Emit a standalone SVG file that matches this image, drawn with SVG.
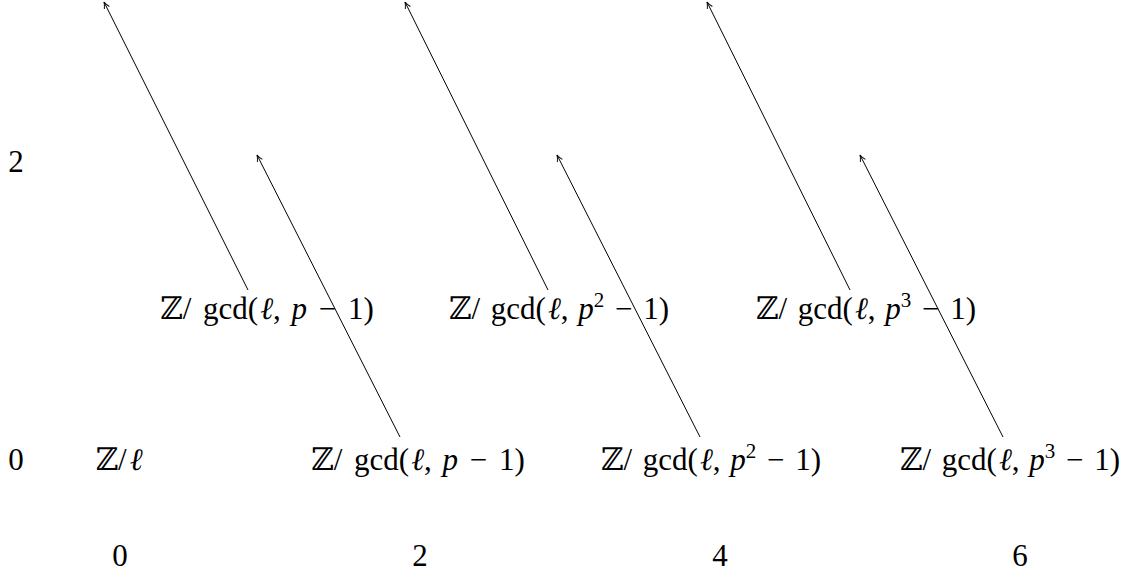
<svg xmlns="http://www.w3.org/2000/svg" width="1128" height="588" viewBox="0 0 1128 588">
<style type="text/css">
.i{font-style:italic}
.c{stroke:#000;stroke-width:1;fill:none}
</style>
<defs>
<marker id="a" viewBox="0 0 10 10" refX="9" refY="5" markerWidth="8" markerHeight="8" orient="auto" markerUnits="userSpaceOnUse">
<path d="M1,1.5 Q5,4 9,5 Q5,6 1,8.5" fill="none" stroke="#000" stroke-width="1.2"/>
</marker>
</defs>
<rect width="1128" height="588" fill="#fff"/>
<g font-family="'Liberation Serif', 'DejaVu Serif', serif" font-size="31" fill="#000" text-anchor="middle">
<g id="axes">
<text x="16" y="172">2</text>
<text x="16" y="470">0</text>
<text x="120" y="566">0</text>
<text x="420" y="566">2</text>
<text x="720" y="566">4</text>
<text x="1020" y="566">6</text>
</g>
<g id="n00"><text x="119" y="470">ℤ/<tspan dx="3" class="i">ℓ</tspan></text></g>
<g id="n20"><text x="418" y="470">ℤ/<tspan dx="4"> gcd(</tspan><tspan class="i" dx="2">ℓ</tspan>,<tspan dx="3"> </tspan><tspan class="i">p</tspan><tspan dx="4"> −</tspan><tspan dx="4"> 1)</tspan></text></g>
<g id="n40"><text x="711" y="470">ℤ/<tspan dx="3"> gcd(</tspan><tspan class="i" dx="2">ℓ</tspan>,<tspan dx="2"> </tspan><tspan class="i">p</tspan><tspan font-size="21" dy="-12">2</tspan><tspan dy="12" dx="3"> −</tspan><tspan dx="3"> 1)</tspan></text></g>
<g id="n60"><text x="1010" y="470">ℤ/<tspan dx="3"> gcd(</tspan><tspan class="i" dx="2">ℓ</tspan>,<tspan dx="2"> </tspan><tspan class="i">p</tspan><tspan font-size="21" dy="-12">3</tspan><tspan dy="12" dx="3"> −</tspan><tspan dx="3"> 1)</tspan></text></g>
<g id="n11"><text x="267" y="319">ℤ/<tspan dx="4"> gcd(</tspan><tspan class="i" dx="2">ℓ</tspan>,<tspan dx="3"> </tspan><tspan class="i">p</tspan><tspan dx="4"> −</tspan><tspan dx="4"> 1)</tspan></text></g>
<g id="n31"><text x="559" y="319">ℤ/<tspan dx="3"> gcd(</tspan><tspan class="i" dx="2">ℓ</tspan>,<tspan dx="2"> </tspan><tspan class="i">p</tspan><tspan font-size="21" dy="-12">2</tspan><tspan dy="12" dx="3"> −</tspan><tspan dx="3"> 1)</tspan></text></g>
<g id="n51"><text x="866" y="319">ℤ/<tspan dx="3"> gcd(</tspan><tspan class="i" dx="2">ℓ</tspan>,<tspan dx="2"> </tspan><tspan class="i">p</tspan><tspan font-size="21" dy="-12">3</tspan><tspan dy="12" dx="3"> −</tspan><tspan dx="3"> 1)</tspan></text></g>
</g>
<g id="connectors" class="c">
<line x1="248" y1="290" x2="104" y2="2" marker-end="url(#a)"/>
<line x1="400" y1="437" x2="257" y2="155" marker-end="url(#a)"/>
<line x1="548" y1="290" x2="405" y2="2" marker-end="url(#a)"/>
<line x1="700" y1="437" x2="557" y2="155" marker-end="url(#a)"/>
<line x1="850" y1="290" x2="707" y2="2" marker-end="url(#a)"/>
<line x1="1003" y1="437" x2="860" y2="155" marker-end="url(#a)"/>
</g>
</svg>
